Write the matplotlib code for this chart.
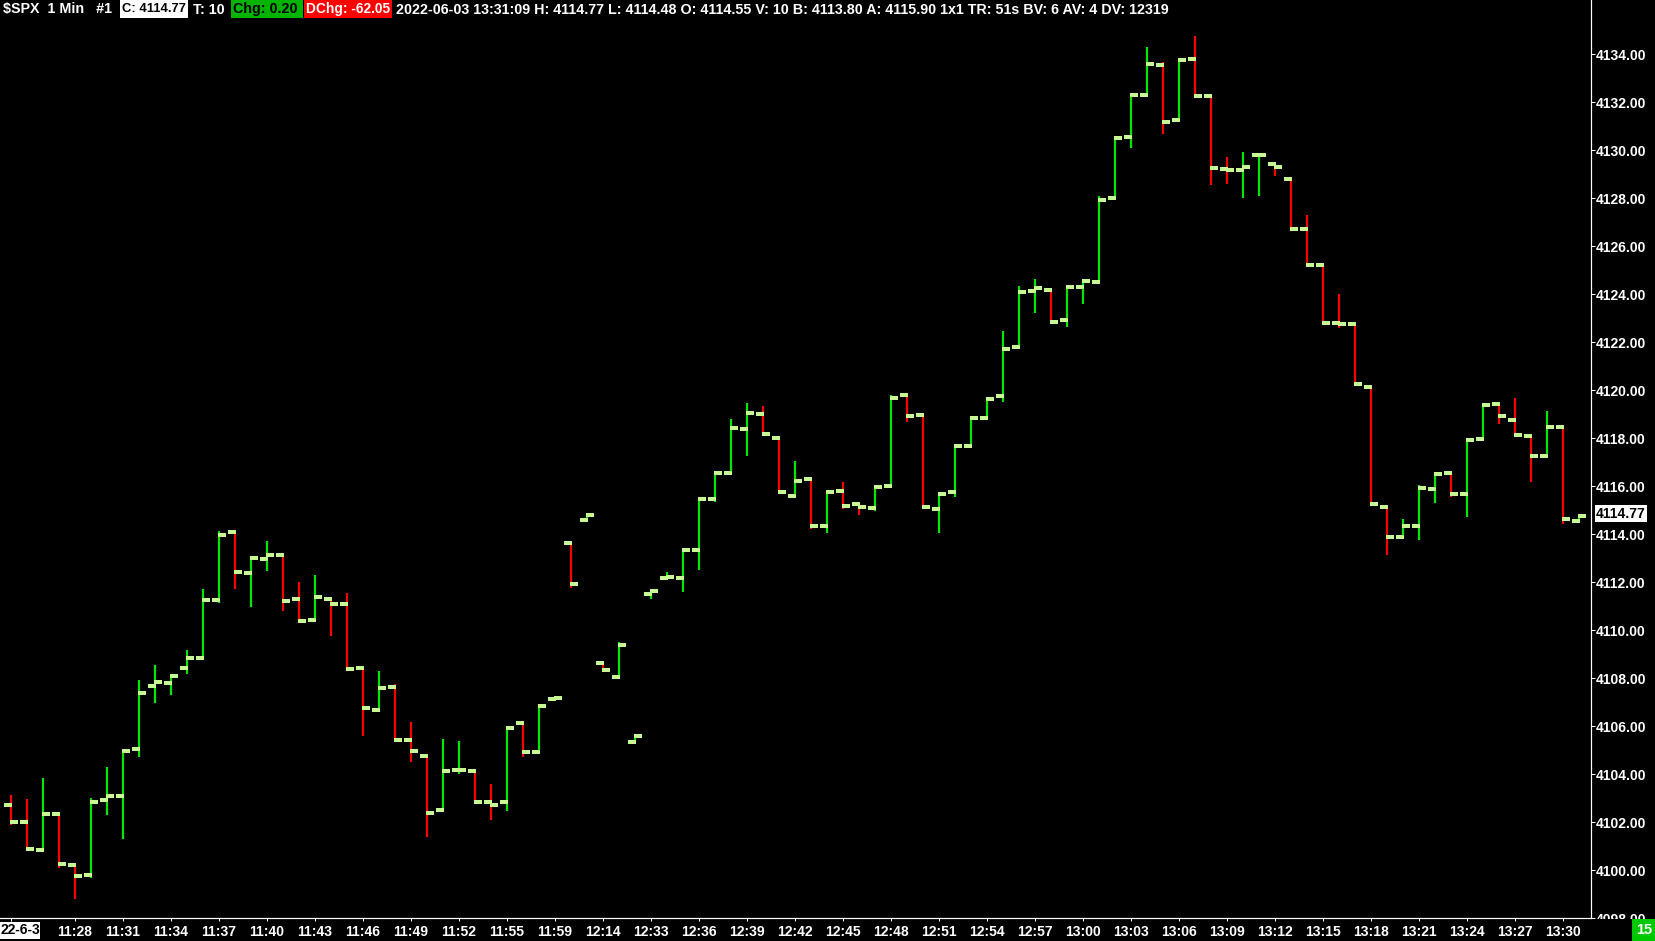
import matplotlib
matplotlib.use('Agg')
import matplotlib.pyplot as plt
from matplotlib.patches import Rectangle

W, H, DPI = 1656, 941, 100

opens = [4102.71, 4102.00, 4100.83, 4102.35, 4100.22, 4099.78, 4102.92, 4103.10, 4105.04, 4107.67,
         4107.81, 4108.42, 4108.85, 4111.25, 4114.08, 4112.38, 4112.96, 4113.14, 4111.31, 4110.42,
         4111.28, 4111.10, 4108.43, 4106.68, 4107.64, 4105.42, 4104.75, 4102.50, 4104.17, 4104.13,
         4102.83, 4102.83, 4106.13, 4104.92, 4107.13, 4113.63, 4114.58, 4108.63, 4108.04, 4105.33,
         4111.50, 4112.17, 4112.17, 4113.33, 4115.46, 4116.54, 4118.38, 4119.00, 4118.00, 4115.58,
         4116.29, 4114.33, 4115.79, 4115.26, 4115.08, 4116.00, 4119.79, 4118.96, 4115.04, 4115.75,
         4117.67, 4118.83, 4119.75, 4121.79, 4124.13, 4124.18, 4122.92, 4124.29, 4124.50, 4128.00,
         4130.54, 4132.29, 4133.56, 4131.25, 4133.79, 4132.26, 4129.20, 4129.15, 4129.80, 4129.40,
         4128.80, 4126.70, 4125.20, 4122.80, 4122.75, 4120.13, 4115.13, 4113.88, 4114.33, 4115.88,
         4116.54, 4115.67, 4117.96, 4119.42, 4118.75, 4118.08, 4117.25, 4118.46, 4114.55]
highs = [4103.12, 4102.96, 4103.85, 4102.35, 4100.25, 4102.99, 4104.29, 4104.97, 4107.92, 4108.54,
         4108.08, 4109.17, 4111.71, 4114.13, 4114.08, 4113.08, 4113.71, 4113.14, 4112.00, 4112.29,
         4111.28, 4111.53, 4108.43, 4108.28, 4107.75, 4106.17, 4104.75, 4105.46, 4105.38, 4104.13,
         4103.58, 4106.00, 4106.13, 4106.92, 4107.17, 4113.63, 4114.79, 4108.63, 4109.49, 4105.58,
         4111.63, 4112.42, 4113.33, 4115.46, 4116.54, 4118.78, 4119.46, 4119.33, 4118.00, 4117.04,
         4116.29, 4115.79, 4116.17, 4115.26, 4115.97, 4119.78, 4119.79, 4118.96, 4115.68, 4117.67,
         4118.83, 4119.72, 4122.44, 4124.32, 4124.61, 4124.18, 4124.29, 4124.54, 4128.07, 4130.51,
         4132.32, 4134.29, 4133.68, 4133.76, 4134.75, 4132.26, 4129.70, 4129.90, 4129.85, 4129.40,
         4128.80, 4127.30, 4125.20, 4124.00, 4122.75, 4120.13, 4115.13, 4114.63, 4116.04, 4116.50,
         4116.54, 4117.92, 4119.42, 4119.42, 4119.67, 4118.08, 4119.13, 4118.46, 4114.77]
lows = [4101.88, 4100.85, 4100.80, 4100.10, 4098.79, 4099.68, 4102.29, 4101.29, 4104.72, 4106.97,
        4107.29, 4108.17, 4108.85, 4111.13, 4111.71, 4110.97, 4112.47, 4110.81, 4110.32, 4110.42,
        4109.76, 4108.39, 4105.60, 4106.57, 4105.42, 4104.51, 4101.39, 4102.50, 4104.00, 4102.83,
        4102.08, 4102.46, 4104.71, 4104.92, 4107.13, 4111.76, 4114.58, 4108.33, 4108.04, 4105.33,
        4111.31, 4112.17, 4111.60, 4112.50, 4115.35, 4116.54, 4117.25, 4118.17, 4115.75, 4115.58,
        4114.19, 4114.03, 4115.06, 4114.81, 4114.97, 4116.00, 4118.68, 4115.13, 4114.06, 4115.56,
        4117.67, 4118.80, 4119.51, 4121.79, 4123.22, 4122.83, 4122.61, 4123.58, 4124.50, 4128.00,
        4130.10, 4132.29, 4130.68, 4131.25, 4132.26, 4128.54, 4128.60, 4128.00, 4128.10, 4128.90,
        4126.70, 4125.20, 4122.70, 4122.60, 4120.20, 4115.25, 4113.13, 4113.88, 4113.75, 4115.29,
        4115.56, 4114.71, 4117.96, 4118.58, 4118.13, 4116.17, 4117.25, 4114.42, 4114.48]
closes = [4102.00, 4100.88, 4102.35, 4100.25, 4099.75, 4102.83, 4103.10, 4104.97, 4107.38, 4107.83,
          4108.08, 4108.85, 4111.25, 4113.96, 4112.43, 4113.01, 4113.14, 4111.21, 4110.38, 4111.39,
          4111.10, 4108.39, 4106.75, 4107.60, 4105.42, 4104.97, 4102.38, 4104.13, 4104.18, 4102.83,
          4102.71, 4105.92, 4104.92, 4106.83, 4107.17, 4111.92, 4114.79, 4108.33, 4109.38, 4105.58,
          4111.63, 4112.21, 4113.33, 4115.46, 4116.54, 4118.42, 4119.04, 4118.17, 4115.75, 4116.21,
          4114.33, 4115.75, 4115.17, 4115.13, 4115.97, 4119.67, 4118.92, 4115.13, 4115.68, 4117.67,
          4118.83, 4119.63, 4121.71, 4124.08, 4124.26, 4122.83, 4124.29, 4124.54, 4127.92, 4130.51,
          4132.29, 4133.60, 4131.18, 4133.76, 4132.26, 4129.25, 4129.15, 4129.30, 4129.80, 4129.30,
          4126.70, 4125.20, 4122.80, 4122.75, 4120.25, 4115.25, 4113.88, 4114.33, 4115.92, 4116.50,
          4115.67, 4117.92, 4119.38, 4118.92, 4118.13, 4117.25, 4118.46, 4114.63, 4114.77]

date_label = '22-6-3'
time_labels = ['11:28', '11:31', '11:34', '11:37', '11:40', '11:43', '11:46', '11:49',
               '11:52', '11:55', '11:59', '12:14', '12:33', '12:36', '12:39', '12:42', '12:45',
               '12:48', '12:51', '12:54', '12:57', '13:00', '13:03', '13:06', '13:09', '13:12',
               '13:15', '13:18', '13:21', '13:24', '13:27', '13:30']
price_ticks = list(range(4098, 4136, 2))
last_price = 4114.77
bar_count_label = '15'

# (text, text x0 px, text x1 px, text colour, box (x0, x1, colour) or None)
header_segments = [
    ("$SPX  1 Min   #1", 3, 115, 'white', None),
    ("C: 4114.77", 122, 186, 'black', (120, 188, 'white')),
    ("T: 10", 193, 225, 'white', None),
    ("Chg: 0.20", 233, 301, 'black', (231, 303, '#00b400')),
    ("DChg: -62.05", 306, 390, 'white', (304, 392, '#ff0000')),
    ("2022-06-03 13:31:09 H: 4114.77 L: 4114.48 O: 4114.55 V: 10 B: 4113.80 A: 4115.90 "
     "1x1 TR: 51s BV: 6 AV: 4 DV: 12319", 396, 1173, 'white', None),
]

FONT = 'Liberation Sans'
UP, DOWN, TICKC = '#00e600', '#ff0000', '#c8f894'


def pt(px):
    return px * 72.0 / DPI


fig = plt.figure(figsize=(W / DPI, H / DPI), dpi=DPI, facecolor='black')
ax_right, ax_bottom = 1591, 918
ax = fig.add_axes([0, (H - ax_bottom) / H, ax_right / W, ax_bottom / H])
ax.set_facecolor('black')

n = len(opens)
xs = list(range(n))
ax.set_xlim(-0.6875, 98.75)
ax.set_ylim(4098.0, 4136.25)

line_cols = [UP if c >= o else DOWN for o, c in zip(opens, closes)]
ax.vlines(xs, lows, highs, colors=line_cols, linewidth=pt(2.2), capstyle='butt', zorder=2)
ax.hlines(opens, [x - 0.45 for x in xs], [x + 0.05 for x in xs], colors=TICKC,
          linewidth=pt(4), capstyle='butt', zorder=3)
ax.hlines(closes, [x - 0.05 for x in xs], [x + 0.46 for x in xs], colors=TICKC,
          linewidth=pt(4), capstyle='butt', zorder=3)

for s in ['top', 'left']:
    ax.spines[s].set_visible(False)
for s in ['right', 'bottom']:
    ax.spines[s].set_color('white')
    ax.spines[s].set_linewidth(pt(1.2))

ax.yaxis.tick_right()
ax.set_yticks(price_ticks)
ax.set_yticklabels([f"{p:.2f}" for p in price_ticks])
tick_pos = [0] + list(range(4, 98, 3))
ax.set_xticks(tick_pos)
ax.set_xticklabels([''] + time_labels)
ax.tick_params(axis='y', colors='white', direction='out', length=pt(4), width=pt(1), pad=pt(1),
               labelsize=10)
ax.tick_params(axis='x', colors='white', direction='out', length=pt(3), width=pt(1), pad=pt(4),
               labelsize=10)
for lab in ax.get_yticklabels() + ax.get_xticklabels():
    lab.set_fontfamily(FONT)
    lab.set_fontweight('bold')
    lab.set_color('white')

# date label at the first bar (left part cut by the chart edge in the original)
fig.add_artist(Rectangle((0, (H - 939) / H), 40 / W, 17 / H, transform=fig.transFigure,
                         facecolor='white', edgecolor='none', zorder=6))
fig.text(1 / W, (H - 930.5) / H, date_label, ha='left', va='center', color='black', fontsize=10,
         fontfamily=FONT, fontweight='bold', zorder=7)

# current price marker on right scale
ax.text(1.0 + 5 / ax_right, last_price + 0.08, f"{last_price:.2f}", transform=ax.get_yaxis_transform(),
        ha='left', va='center', color='black', fontsize=10, fontfamily=FONT, fontweight='bold',
        bbox=dict(facecolor='white', edgecolor='none', pad=0.9), clip_on=False, zorder=10)

# mask below the bottom line on the right scale (clips the lowest label)
fig.add_artist(Rectangle(((ax_right + 1) / W, 0), (W - ax_right) / W, (H - ax_bottom - 1) / H,
                         transform=fig.transFigure, facecolor='black', edgecolor='none', zorder=5))
fig.add_artist(Rectangle((1632 / W, 0), 24 / W, 22 / H, transform=fig.transFigure,
                         facecolor='#00c800', edgecolor='none', zorder=6))
fig.text(1644 / W, 10.5 / H, bar_count_label, ha='center', va='center', color='white', fontsize=10.5,
         fontfamily=FONT, fontweight='bold', zorder=7)

# header: font size fitted to the long status text, short pieces shrunk to fit their boxes
fig.canvas.draw()
renderer = fig.canvas.get_renderer()


def fitted_size(txt, target):
    probe = fig.text(0, 0, txt, fontsize=10, fontfamily=FONT, fontweight='bold')
    w = probe.get_window_extent(renderer).width
    probe.remove()
    return 10 * target / w


long_txt, lx0, lx1 = header_segments[-1][0], header_segments[-1][1], header_segments[-1][2]
hsize = fitted_size(long_txt, lx1 - lx0)
for txt, x0, x1, fg, box in header_segments:
    if box is not None:
        bx0, bx1, bcol = box
        fig.add_artist(Rectangle((bx0 / W, 1 - 18 / H), (bx1 - bx0) / W, 18 / H,
                                 transform=fig.transFigure, facecolor=bcol, edgecolor='none', zorder=6))
    size = min(hsize, fitted_size(txt, x1 - x0))
    fig.text(x0 / W, 1 - 9.5 / H, txt, ha='left', va='center', color=fg, fontsize=size,
             fontfamily=FONT, fontweight='bold', zorder=7)

fig.savefig('out.png', dpi=DPI, facecolor='black')
